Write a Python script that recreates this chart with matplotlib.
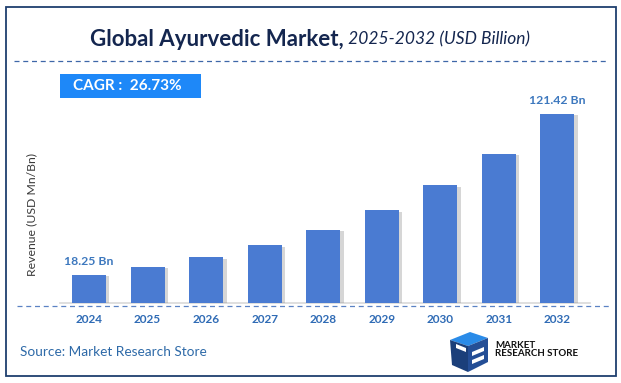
import matplotlib
matplotlib.use("Agg")
import matplotlib.pyplot as plt
from matplotlib.patches import Rectangle, Polygon
from matplotlib.lines import Line2D
import matplotlib.patheffects as pe

years = ["2024", "2025", "2026", "2027", "2028", "2029", "2030", "2031", "2032"]
values = [18.25, 23.13, 29.31, 37.14, 47.07, 59.65, 75.60, 95.80, 121.42]
labels = {0: "18.25 Bn", 8: "121.42 Bn"}
title_bold = "Global Ayurvedic Market,"
title_rest = " 2025-2032 (USD Billion)"
cagr_text = "CAGR :  26.73%"
source_text = "Source: Market Research Store"

W, H = 621, 383
plt.rcParams['font.family'] = ['Lato', 'DejaVu Sans']
fig = plt.figure(figsize=(W / 100, H / 100), dpi=100)
fig.patch.set_facecolor("white")

def fx(px):
    return px / W

def fy(py):
    return 1 - py / H

# outer border
fig.add_artist(Rectangle((fx(6), fy(376)), fx(610), (376 - 7) / H, transform=fig.transFigure,
                         fill=False, edgecolor="#1F3F6E", linewidth=1.3))

# title
t1 = fig.text(fx(90), fy(39), title_bold, fontsize=16, fontweight="bold", color="#14264F",
              ha="left", va="center")
fig.canvas.draw()
bb = t1.get_window_extent()
fig.text(bb.x1 / W, fy(39), title_rest, fontsize=12.5, style="italic", color="#14264F",
         ha="left", va="center")

# dashed line below title
fig.add_artist(Line2D([fx(14), fx(606)], [fy(61), fy(61)], transform=fig.transFigure,
                      color="#3E67A8", linestyle=(0, (4, 3)), linewidth=0.9))

# CAGR box
fig.add_artist(Rectangle((fx(60), fy(98)), fx(141), 24 / H, transform=fig.transFigure,
                         facecolor="#1E88F8", edgecolor="none"))
fig.text(fx(73), fy(86.5), cagr_text, fontsize=11, fontweight="bold", color="white",
         ha="left", va="center")

# axes
ax = fig.add_axes([fx(60), fy(303), fx(530), 203 / H])
x = list(range(len(years)))
bars = ax.bar(x, values, width=0.58, color="#4A7BD2", zorder=3)
for b in bars:
    b.set_path_effects([pe.SimplePatchShadow(offset=(2.5, -1.0), shadow_rgbFace="#8a8a8a", alpha=0.35),
                        pe.Normal()])
ax.set_xlim(-0.496, 8.56)
ax.set_ylim(0, 130.4)
for i, lab in labels.items():
    ax.annotate(lab, (x[i], values[i]), xytext=(0, 5.5), textcoords="offset points",
                ha="center", va="bottom", fontsize=8.8, fontweight="bold", color="#3D78BE")
ax.set_xticks(x)
ax.set_xticklabels(years, fontsize=8.5, fontweight="bold", color="#2F6BB5")
ax.tick_params(axis="x", length=0, pad=8)
ax.set_yticks([])
for s in ["top", "right", "left"]:
    ax.spines[s].set_visible(False)
ax.spines["bottom"].set_color("#D9D9D9")
ax.spines["bottom"].set_linewidth(1.2)
ax.set_facecolor("none")

# dashed baseline
fig.add_artist(Line2D([fx(17), fx(612)], [fy(306), fy(306)], transform=fig.transFigure,
                      color="#5B82C4", linestyle=(0, (4, 3)), linewidth=0.9))

# y label
fig.text(fx(32), fy(214), "Revenue (USD Mn/Bn)", rotation=90, fontsize=8.8, color="#3A3A3A",
         ha="center", va="center")

# source
fig.text(fx(20), fy(352), source_text, fontsize=9.8, color="#2E6AA8", ha="left", va="center")

# logo (simplified)
def poly(pts, color):
    fig.add_artist(Polygon([(fx(a), fy(b)) for a, b in pts], closed=True, transform=fig.transFigure,
                           facecolor=color, edgecolor="none"))

poly([(450, 340), (470, 332), (488, 338), (468, 346)], "#2A8BE8")
poly([(450, 340), (468, 346), (468, 372), (452, 365)], "#1B3F7A")
poly([(468, 346), (488, 338), (488, 362), (468, 372)], "#244E96")
poly([(456, 344), (466, 348), (466, 352), (456, 348)], "white")
poly([(472, 352), (484, 347), (484, 351), (472, 356)], "white")
poly([(472, 360), (484, 355), (484, 359), (472, 364)], "white")
fig.text(fx(495), fy(345), "MARKET", fontsize=7, fontweight="bold", color="#111111",
         ha="left", va="center")
fig.text(fx(495), fy(354), "RESEARCH STORE", fontsize=7, fontweight="bold", color="#111111",
         ha="left", va="center")

fig.savefig("out.png", dpi=100, facecolor="white")
